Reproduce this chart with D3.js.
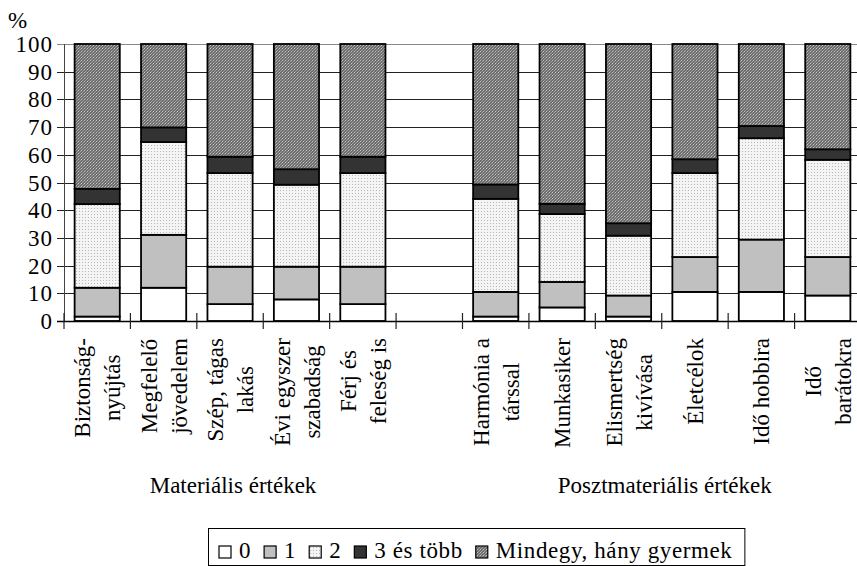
<!DOCTYPE html>
<html>
<head>
<meta charset="utf-8">
<script src="https://cdn.jsdelivr.net/npm/d3@7"></script>
<style>
  html, body { margin: 0; padding: 0; background: #fff; }
  svg { display: block; }
</style>
</head>
<body>
<svg id="chart" width="857" height="566" font-family="'Liberation Serif', 'Times New Roman', 'DejaVu Serif', serif"></svg>
<script>
// ---- data ----
const categories = [
  "Biztonság-\nnyújtás", "Megfelelő\njövedelem", "Szép, tágas\nlakás", "Évi egyszer\nszabadság", "Férj és\nfeleség is",
  "",
  "Harmónia a\ntárssal", "Munkasiker", "Elismertség\nkivívása", "Életcélok", "Idő hobbira", "Idő\nbarátokra"
];
const seriesNames = ["0", "1", "2", "3 és több", "Mindegy, hány gyermek"];
const v0       = [1.6, 12.0, 6.1, 7.8, 6.1, null, 1.6, 4.9, 1.6, 10.5, 10.5, 9.2];
const v1       = [10.4, 19.1, 13.5, 11.8, 13.5, null, 8.9, 9.2, 7.6, 12.6, 18.9, 13.9];
const v2       = [30.2, 33.5, 33.8, 29.6, 33.8, null, 33.6, 24.5, 21.6, 30.3, 36.6, 35.1];
const v3       = [5.5, 5.3, 5.9, 5.6, 5.9, null, 5.2, 3.7, 4.5, 5.0, 4.4, 3.8];
const vMindegy = [52.3, 30.1, 40.7, 45.2, 40.7, null, 50.7, 57.7, 64.7, 41.6, 29.6, 38.0];
const yTicks = [0, 10, 20, 30, 40, 50, 60, 70, 80, 90, 100];
const groupNames = ["Materiális értékek", "Posztmateriális értékek"];
const groupMembers = [[0, 1, 2, 3, 4], [6, 7, 8, 9, 10, 11]];
const yUnit = "%";

const seriesValues = [v0, v1, v2, v3, vMindegy];

// ---- setup ----
const svg = d3.select("#chart");
const defs = svg.append("defs");
const FS = "23px";

// dotted light pattern (series "2")
const p2 = defs.append("pattern").attr("id", "pat2").attr("patternUnits", "userSpaceOnUse")
  .attr("width", 3).attr("height", 3);
p2.append("rect").attr("width", 3).attr("height", 3).attr("fill", "#f4f4f4");
p2.append("rect").attr("x", 1).attr("y", 1).attr("width", 1).attr("height", 1).attr("fill", "#b8b8b8");

// dark checkered pattern (Mindegy)
const p4 = defs.append("pattern").attr("id", "pat4").attr("patternUnits", "userSpaceOnUse")
  .attr("width", 3).attr("height", 3);
p4.append("rect").attr("width", 3).attr("height", 3).attr("fill", "#6e6e6e");
p4.append("rect").attr("x", 0).attr("y", 0).attr("width", 1).attr("height", 1).attr("fill", "#c4c4c4");
p4.append("rect").attr("x", 2).attr("y", 1).attr("width", 1).attr("height", 1).attr("fill", "#a0a0a0");
p4.append("rect").attr("x", 1).attr("y", 2).attr("width", 1).attr("height", 1).attr("fill", "#a0a0a0");

const fills = ["#ffffff", "#c0c0c0", "url(#pat2)", "#333333", "url(#pat4)"];

const x = d3.scaleBand().domain(d3.range(categories.length)).range([64, 861])
  .paddingInner(0.32).paddingOuter(0.16);
const y = d3.scaleLinear().domain([0, 100]).range([321, 44]);

// gridlines
svg.append("g").selectAll("line").data(yTicks.filter(t => t > 0)).join("line")
  .attr("x1", 57).attr("x2", 861)
  .attr("y1", d => Math.round(y(d)) + 0.5).attr("y2", d => Math.round(y(d)) + 0.5)
  .attr("stroke", d => d === 100 ? "#888" : "#222").attr("stroke-width", 1);

// y axis line
svg.append("line").attr("x1", 64.5).attr("x2", 64.5).attr("y1", y(100)).attr("y2", y(0))
  .attr("stroke", "#444").attr("stroke-width", 1);

// y tick labels
svg.append("g").selectAll("text").data(yTicks).join("text")
  .attr("x", 53).attr("y", d => y(d)).attr("dy", "0.35em")
  .attr("text-anchor", "end").style("font-size", FS).style("letter-spacing", "1px")
  .text(d => d);
svg.append("line").attr("x1", 57).attr("x2", 64).attr("y1", Math.round(y(0)) + 0.5).attr("y2", Math.round(y(0)) + 0.5).attr("stroke", "#000");

svg.append("text").attr("x", 8).attr("y", 28).style("font-size", FS).text(yUnit);

// stacked bars
const stackData = categories.map((c, i) => {
  const o = { i };
  seriesValues.forEach((s, k) => { o["s" + k] = s[i] == null ? 0 : s[i]; });
  return o;
});
const stack = d3.stack().keys(seriesValues.map((s, k) => "s" + k));
const stacked = stack(stackData);

const barG = svg.append("g");
stacked.forEach((layer, k) => {
  barG.append("g").selectAll("rect")
    .data(layer.filter(d => seriesValues[k][d.data.i] != null))
    .join("rect")
    .attr("x", d => x(d.data.i))
    .attr("width", x.bandwidth())
    .attr("y", d => y(d[1]))
    .attr("height", d => y(d[0]) - y(d[1]))
    .attr("fill", fills[k])
    .attr("stroke", "#000")
    .attr("stroke-width", 1.8);
});

// x axis line and ticks
svg.append("line").attr("x1", 57).attr("x2", 861).attr("y1", 321.5).attr("y2", 321.5)
  .attr("stroke", "#000").attr("stroke-width", 1.3);
const step = x.step();
const tickXs = d3.range(categories.length + 1).map(i => 64 + i * step);
svg.append("g").selectAll("line").data(tickXs).join("line")
  .attr("x1", d => d).attr("x2", d => d).attr("y1", 313).attr("y2", 329)
  .attr("stroke", "#222").attr("stroke-width", 1.2);

// category labels (rotated, multi-line)
const labelTop = 338;
const lineGap = 30;
categories.forEach((c, i) => {
  if (!c) return;
  const lines = c.split("\n");
  const cx = x(i) + x.bandwidth() / 2;
  const g = svg.append("g");
  const texts = lines.map((ln, j) => {
    const off = (j - (lines.length - 1) / 2) * lineGap;
    return g.append("text")
      .attr("text-anchor", "middle")
      .attr("dy", "0.35em")
      .style("font-size", FS)
      .text(ln)
      .attr("data-off", off);
  });
  const maxLen = d3.max(texts, t => t.node().getComputedTextLength());
  const cy = labelTop + maxLen / 2;
  texts.forEach(t => {
    const off = +t.attr("data-off");
    t.attr("transform", `translate(${cx + off},${cy}) rotate(-90)`);
  });
});

// group labels
groupNames.forEach((name, gi) => {
  const mem = groupMembers[gi];
  const first = 64 + mem[0] * step;
  const last = 64 + (mem[mem.length - 1] + 1) * step;
  svg.append("text").attr("x", (first + last) / 2 + 3).attr("y", 493)
    .attr("text-anchor", "middle").style("font-size", FS).text(name);
});

// legend
const leg = svg.append("g");
const legBox = leg.append("rect").attr("x", 208.5).attr("y", 528.5).attr("height", 37)
  .attr("fill", "#fff").attr("stroke", "#000").attr("stroke-width", 1);
let lx = 219;
seriesNames.forEach((n, k) => {
  leg.append("rect").attr("x", lx).attr("y", 546).attr("width", 12).attr("height", 12)
    .attr("fill", fills[k]).attr("stroke", "#000").attr("stroke-width", 1.2);
  const t = leg.append("text").attr("x", lx + 20).attr("y", 558).style("font-size", FS)
    .style("letter-spacing", "0.6px").text(n);
  lx += 20 + t.node().getComputedTextLength() + 13;
});
legBox.attr("width", lx - 208 - 1);
</script>
</body>
</html>
